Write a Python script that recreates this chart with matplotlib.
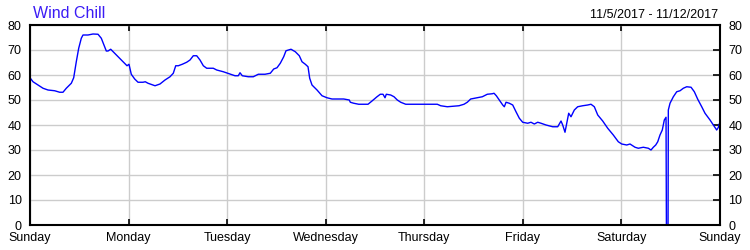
import matplotlib
matplotlib.use("Agg")
import matplotlib.pyplot as plt

plt.rcParams['font.family'] = ['Liberation Sans', 'DejaVu Sans']

# hours since Sunday 00:00
hours = [0, 0.73, 1.95, 3.17, 4.38, 6.01, 7.23, 8.03, 8.84, 10.06, 10.64, 11.27,
         11.86, 12.49, 12.9, 14.12, 15.34, 16.56, 17.36, 18.02, 18.58, 18.99, 19.65,
         20.62, 21.84, 23.06, 23.62, 24.1, 24.66, 25.49, 26.3, 27.51, 28.07, 28.73,
         29.22, 30.44, 31.65, 32.87, 34.09, 34.89, 35.48, 36.11, 37.08, 38.15, 38.96,
         39.76, 40.59, 41.39, 42.2, 43.02, 44.63, 45.46, 47.07, 48.7, 49.91, 50.72,
         51.13, 51.69, 53.15, 54.37, 55.59, 57.22, 58.51, 59.34, 60.14, 60.94, 61.77,
         62.33, 63.55, 64.6, 65.57, 66.23, 67.03, 67.69, 68.1, 68.66, 69.88, 71.1,
         72.31, 73.53, 76.38, 77.74, 77.99, 78.82, 80.03, 82.3, 83.27, 84.49, 85.29,
         85.95, 86.44, 86.75, 87.82, 88.63, 89.43, 90.26, 91.48, 99.17, 100.0, 101.61,
         104.45, 105.67, 106.47, 107.3, 108.91, 110.13, 111.34, 112.56, 112.98, 113.54,
         114.27, 115.1, 115.49, 115.9, 116.7, 117.53, 118.33, 119.14, 119.96, 121.18,
         121.98, 122.79, 123.62, 124.42, 125.64, 127.27, 128.49, 129.29, 129.7, 130.26,
         130.68, 131.16, 131.72, 132.53, 133.35, 134.57, 135.79, 136.59, 137.4, 138.23,
         139.44, 140.66, 142.02, 143.24, 144.07, 145.29, 146.09, 147.31, 148.11, 149.33,
         150.55, 151.2, 151.77, 152.35, 152.84, 153.39, 153.95, 154.44, 154.86, 154.95,
         155.25, 155.35, 155.42, 155.83, 156.64, 157.46, 158.27, 159.07, 159.9, 160.95,
         161.75, 162.58, 163.55, 164.35, 165.57, 166.38, 167.19, 167.58, 168.0]
wind_chill = [58.9, 57.3, 56.0, 54.7, 54.0, 53.7, 53.1, 53.1, 54.7, 56.7, 58.9, 65.3,
              70.7, 74.7, 76.0, 76.0, 76.4, 76.3, 74.7, 72.0, 69.6, 69.6, 70.3,
              68.7, 66.7, 64.7, 63.7, 64.3, 60.3, 58.4, 57.1, 57.1, 57.3, 56.7,
              56.4, 55.7, 56.4, 58.0, 59.3, 60.7, 63.7, 63.7, 64.3, 65.1, 66.0,
              67.7, 67.7, 66.0, 63.7, 62.7, 62.7, 62.0, 61.3, 60.4, 59.7, 59.7,
              60.9, 59.7, 59.3, 59.3, 60.3, 60.3, 60.7, 62.4, 62.9, 64.7, 67.3,
              69.7, 70.3, 69.3, 67.7, 65.3, 64.3, 63.3, 58.7, 56.0, 54.0, 51.7,
              50.9, 50.4, 50.4, 50.0, 49.1, 48.7, 48.3, 48.3, 49.6, 51.3, 52.3,
              52.3, 50.9, 52.3, 52.0, 51.3, 50.0, 49.1, 48.3, 48.3, 47.7, 47.3,
              47.7, 48.3, 49.1, 50.4, 50.9, 51.3, 52.3, 52.5, 52.7, 51.7,
              50.0, 48.0, 47.3, 49.1, 48.7, 48.0, 45.3, 42.7, 41.1, 40.7,
              41.1, 40.4, 41.1, 40.7, 40.0, 39.3, 39.3, 41.6, 40.0, 37.1,
              40.7, 44.7, 43.3, 46.0, 47.3, 47.7, 48.0, 48.3, 47.3, 44.0,
              41.6, 38.7, 36.0, 33.3, 32.4, 32.0, 32.4, 31.1, 30.7, 31.1,
              30.7, 30.0, 31.1, 32.0, 33.3, 36.0, 38.0, 42.0, 43.1, 0.0,
              0.0, 0.0, 46.0, 48.7, 51.3, 53.3, 53.7, 54.7, 55.3, 55.1,
              53.3, 50.3, 47.3, 44.7, 42.0, 40.0, 38.0, 39.0, 41.3]

day_ticks = [0, 24, 48, 72, 96, 120, 144, 168]
day_labels = ['Sunday', 'Monday', 'Tuesday', 'Wednesday', 'Thursday', 'Friday',
              'Saturday', 'Sunday']
y_ticks = [0, 10, 20, 30, 40, 50, 60, 70, 80]

fig = plt.figure(figsize=(7.5, 2.5), dpi=100)
ax = fig.add_axes([30/750, 25/250, 690/750, 200/250])
ax.plot(hours, wind_chill, color='#0000ff', linewidth=1.0)

ax.set_xlim(0, 168)
ax.set_ylim(0, 80)
ax.set_xticks(day_ticks)
ax.set_xticklabels(day_labels)
ax.set_yticks(y_ticks)
ax.grid(True, color='#cccccc', linewidth=1.0)
ax.set_axisbelow(True)

for s in ax.spines.values():
    s.set_linewidth(1.5)
    s.set_color('black')

ax.tick_params(axis='x', direction='in', length=4, width=1.2, top=True,
               labelsize=9, pad=5, colors='black')
ax.tick_params(axis='y', direction='in', length=5, width=1.2, left=True,
               right=True, labelleft=True, labelright=True, labelsize=9, pad=6)
for t in ax.yaxis.get_major_ticks():
    t.tick1line.set_visible(False)

fig.text(33/750, 1 - 17.5/250, 'Wind Chill', color='#3b1cf5', fontsize=11.5,
         ha='left', va='baseline')
fig.text(718/750, 1 - 17.5/250, '11/5/2017 - 11/12/2017', color='black',
         fontsize=9, ha='right', va='baseline')

fig.savefig('out.png', dpi=100)
